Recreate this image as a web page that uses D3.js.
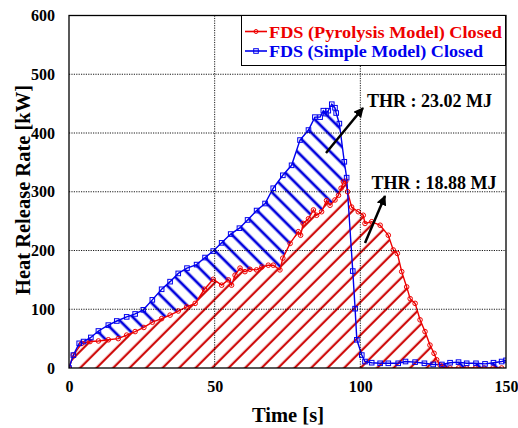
<!DOCTYPE html>
<html><head><meta charset="utf-8">
<script src="https://cdn.jsdelivr.net/npm/d3@7"></script>
<style>body{margin:0;background:#fff}svg{display:block}</style>
</head><body>
<svg id="c" width="518" height="428"></svg>
<script>
// ---- data ----
const xTicks = [0, 50, 100, 150];
const yTicks = [0, 100, 200, 300, 400, 500, 600];
const seriesNames = ["FDS (Pyrolysis Model) Closed", "FDS (Simple Model) Closed"];
const annotations = ["THR : 23.02 MJ", "THR : 18.88 MJ"];

const simpleTime = [0,1.5,3.5,5,7.5,10.1,13.5,16.4,19.8,22.7,25.5,28.6,31.8,34.7,37.5,40.5,43.8,46.7,49.5,52.4,55.5,58.5,61.3,64.4,67.3,70.1,73.4,76.4,79.3,82.2,84.4,86.2,87.3,88.2,89,90.2,91.3,91.7,92.8,94.5,95.3,97.4,98.2,98.8,100.5,101.6,103.9,106.8,109.6,113,115.5,118.8,122,125,128,130.8,133.7,136.5,139.7,142.8,145.7,148.5,150];
const simpleHRR  = [0,22,42,45,52,63,73,80,87,92,99,116,134,147,161,170,176,188,199,213,228,238,252,268,280,306,328,345,388,405,427,427,438,433,438,449,443,434,416,351,324,165,101,48,22,11,9,8,8,8,11,10,8,6,6,9,10,8,8,7,9,11,13];

const pyroTime = [0,1.5,4.4,7.2,10.1,13.5,16.9,19.8,22.7,25.7,28.6,31.8,34.7,37.5,40.4,43.3,46.5,49.5,52.4,54.7,55.8,57,58.7,60.4,62.1,64.4,66.2,68.4,70.1,72.4,73.4,75.9,78.7,79.5,80.4,82.2,83.9,85,86.7,88.4,89.6,91.3,92.5,93.4,94.2,95,95.6,97,99.3,101,101.6,103.9,106.8,109.6,111.3,112.7,114.2,115.9,117.1,118.8,120.5,122.2,123.9,125.3,126.2,127.4,128.5,130.8,133.7,136.5,139.5,142.5,145.5,148.5];
const pyroHRR  = [0,22,42,45,46,48,50,56,62,69,78,84,90,97,104,110,134,151,141,150,141,158,170,164,168,167,172,175,175,167,187,212,232,226,246,254,269,260,266,285,277,286,294,306,317,318,300,274,266,260,246,249,243,226,201,195,164,138,118,110,82,62,39,25,14,5,1,0,0,0,0,0,0,0];

// ---- chart ----
const svg = d3.select("#c");
const W0 = 69, W1 = 506, H0 = 15.5, H1 = 368;
const x = d3.scaleLinear().domain([0,150]).range([W0,W1]);
const y = d3.scaleLinear().domain([0,600]).range([H1,H0]);
const FONT = "'Liberation Serif','Times New Roman',serif";
const RED = "#ee0000", BLUE = "#0000ee";

const simple = simpleTime.map((t,i)=>({t, v: simpleHRR[i]}));
const pyro = pyroTime.map((t,i)=>({t, v: pyroHRR[i]}));

const defs = svg.append("defs");
defs.append("clipPath").attr("id","plot").append("rect")
  .attr("x",W0).attr("y",H0).attr("width",W1-W0).attr("height",H1-H0);

const S = 16.5, w = S/Math.SQRT2;
function hatch(id, angle, color, sw, c){
  const off = (((c/Math.SQRT2) % w) + w) % w;
  const p = defs.append("pattern").attr("id",id).attr("patternUnits","userSpaceOnUse")
    .attr("width",w).attr("height",10).attr("patternTransform",`rotate(${angle})`);
  [off-w, off, off+w].forEach(o=>p.append("line").attr("x1",o).attr("x2",o).attr("y1",-1).attr("y2",11)
    .attr("stroke",color).attr("stroke-width",sw));
}
hatch("hRed", 45, "#cc0000", 2.1, 448);
hatch("hBlue", -45, "#0000dd", 2.7, -52.3);

const g = svg.append("g").attr("clip-path","url(#plot)");
const area = d3.area().x(d=>x(d.t)).y0(y(0)).y1(d=>y(d.v));
g.append("path").datum(simple).attr("d",area).attr("fill","url(#hBlue)");
g.append("path").datum(pyro).attr("d",area).attr("fill","#fff");
g.append("path").datum(pyro).attr("d",area).attr("fill","url(#hRed)");

// grid
const grid = svg.append("g");
xTicks.slice(1,-1).forEach(t=>grid.append("line").attr("x1",x(t)).attr("x2",x(t)).attr("y1",H0).attr("y2",H1)
  .attr("stroke","#000").attr("stroke-width",0.9).attr("stroke-dasharray","1.2,1.2"));
yTicks.slice(1,-1).forEach(t=>grid.append("line").attr("x1",W0).attr("x2",W1).attr("y1",y(t)).attr("y2",y(t))
  .attr("stroke","#000").attr("stroke-width",0.9).attr("stroke-dasharray","1.2,1.2"));

// lines
const line = d3.line().x(d=>x(d.t)).y(d=>y(d.v));
g.append("path").datum(pyro).attr("d",line).attr("fill","none").attr("stroke",RED).attr("stroke-width",1.4);
g.append("path").datum(simple).attr("d",line).attr("fill","none").attr("stroke",BLUE).attr("stroke-width",1.4);
g.selectAll(".mr").data(pyro).enter().append("circle").attr("cx",d=>x(d.t)).attr("cy",d=>y(d.v)).attr("r",2.3)
  .attr("fill","none").attr("stroke",RED).attr("stroke-width",1);
g.selectAll(".mb").data(simple).enter().append("rect").attr("x",d=>x(d.t)-2.3).attr("y",d=>y(d.v)-2.3)
  .attr("width",4.6).attr("height",4.6).attr("fill","none").attr("stroke",BLUE).attr("stroke-width",1);

// frame
svg.append("rect").attr("x",W0).attr("y",H0).attr("width",W1-W0).attr("height",H1-H0)
  .attr("fill","none").attr("stroke","#000").attr("stroke-width",1.3);

// axes
const xa = svg.append("g").attr("transform",`translate(0,${H1})`)
  .call(d3.axisBottom(x).tickValues(xTicks).tickSize(0).tickPadding(13).tickFormat(d3.format("d")));
const ya = svg.append("g").attr("transform",`translate(${W0},0)`)
  .call(d3.axisLeft(y).tickValues(yTicks).tickSize(0).tickPadding(14).tickFormat(d3.format("d")));
[xa,ya].forEach(a=>{a.select(".domain").remove();
  a.selectAll("text").attr("font-family",FONT).attr("font-weight","bold").attr("font-size",16).attr("fill","#000");});

svg.append("text").attr("transform","translate(30,190) rotate(-90)").attr("text-anchor","middle")
  .attr("font-family",FONT).attr("font-weight","bold").attr("font-size",20.5).text("Heat Release Rate [kW]");
svg.append("text").attr("x",288).attr("y",421.5).attr("text-anchor","middle")
  .attr("font-family",FONT).attr("font-weight","bold").attr("font-size",20.5).text("Time [s]");

// legend
const lg = svg.append("g");
lg.append("rect").attr("x",241.5).attr("y",15.5).attr("width",264).attr("height",50)
  .attr("fill","#fff").attr("stroke","#000").attr("stroke-width",1);
[[RED,31.5],[BLUE,51]].forEach(([col,yy],i)=>{
  lg.append("line").attr("x1",245).attr("x2",267).attr("y1",yy).attr("y2",yy).attr("stroke",col).attr("stroke-width",1.6);
  if(i===0) lg.append("circle").attr("cx",256).attr("cy",yy).attr("r",2).attr("fill","none").attr("stroke",col);
  else lg.append("rect").attr("x",253.7).attr("y",yy-2.3).attr("width",4.6).attr("height",4.6).attr("fill","none").attr("stroke",col);
  lg.append("text").attr("x",269).attr("y",yy+6).attr("font-family",FONT).attr("font-weight","bold")
    .attr("font-size",17).attr("textLength", i===0 ? 233 : 214).attr("lengthAdjust","spacingAndGlyphs")
    .attr("fill",col).text(seriesNames[i]);
});

// annotations
defs.append("marker").attr("id","ah").attr("viewBox","0 0 10 10").attr("refX",9).attr("refY",5)
  .attr("markerWidth",4).attr("markerHeight",4).attr("orient","auto").attr("markerUnits","strokeWidth")
  .append("path").attr("d","M0,0 L10,5 L0,10 z").attr("fill","#000");
[[326,153,363,108],[365,243,385,196]].forEach(a=>{
  svg.append("line").attr("x1",a[0]).attr("y1",a[1]).attr("x2",a[2]).attr("y2",a[3])
    .attr("stroke","#000").attr("stroke-width",2.5).attr("marker-end","url(#ah)");
});
svg.append("text").attr("x",367).attr("y",107).attr("font-family",FONT).attr("font-weight","bold").attr("font-size",18).text(annotations[0]);
svg.append("text").attr("x",371.5).attr("y",189).attr("font-family",FONT).attr("font-weight","bold").attr("font-size",18).text(annotations[1]);
</script>
</body></html>
